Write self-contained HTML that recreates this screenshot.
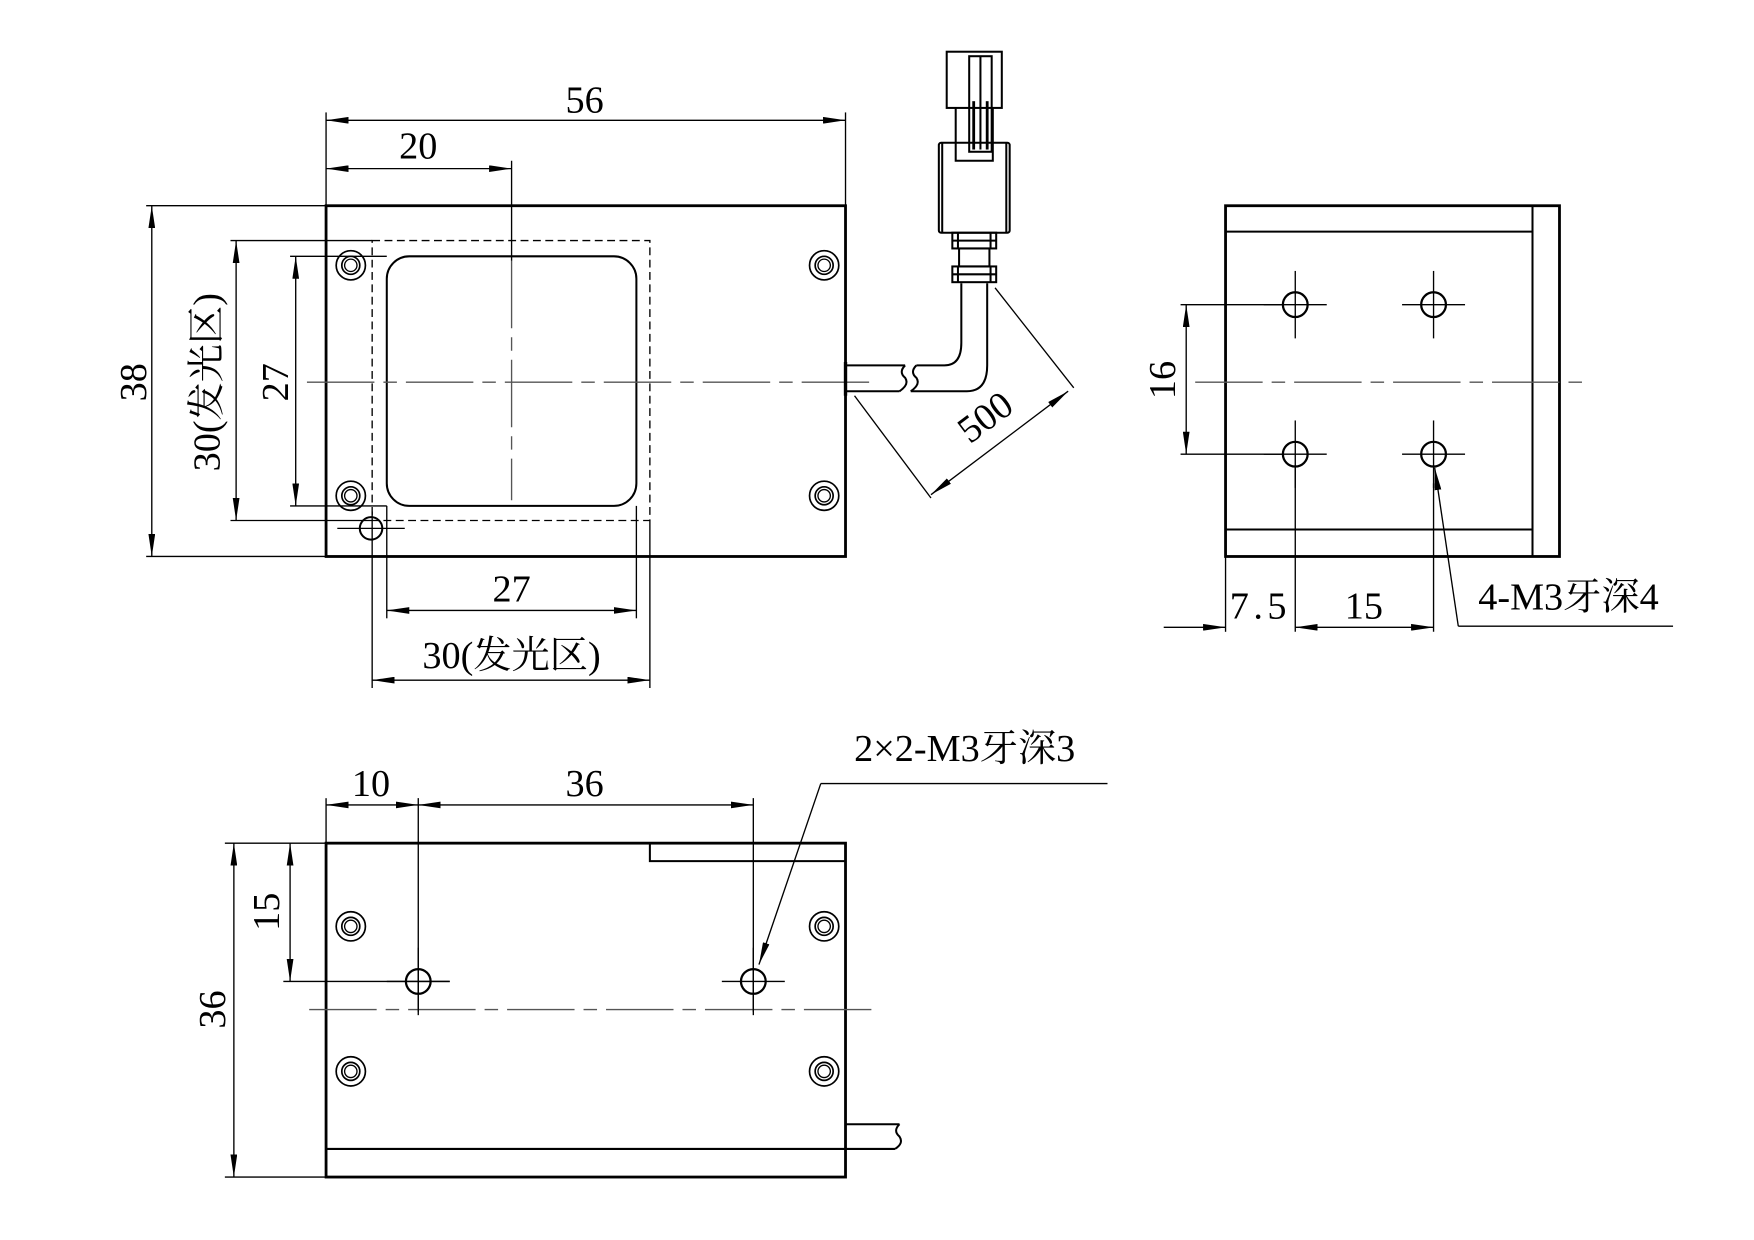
<!DOCTYPE html>
<html><head><meta charset="utf-8"><style>html,body{margin:0;padding:0;background:#fff}svg{display:block}
text{font-family:"Liberation Serif","Noto Serif CJK SC",serif;font-size:34px;fill:#000}</style></head><body>
<svg width="1754" height="1240" viewBox="0 0 1560 1103" preserveAspectRatio="none" xmlns="http://www.w3.org/2000/svg">
<defs>
<marker id="a" viewBox="0 0 20 6" refX="20" refY="3" markerWidth="20" markerHeight="6" markerUnits="userSpaceOnUse" orient="auto-start-reverse"><path d="M0,0L20,3L0,6z" fill="#000"/></marker>
<g id="mh"><circle r="13" fill="none" stroke="#000" stroke-width="1.5"/><circle r="8" fill="none" stroke="#000" stroke-width="1.5"/><circle r="5.5" fill="none" stroke="#000" stroke-width="1.2"/></g>
<g id="th"><circle r="11" fill="none" stroke="#000" stroke-width="2"/><line x1="-28" y1="0" x2="28" y2="0"/><line x1="0" y1="-30" x2="0" y2="30"/></g>
</defs>
<g stroke="#000" stroke-width="1.2" fill="none">
<!-- FRONT VIEW -->
<rect x="290" y="183" width="462" height="312" stroke-width="2.5"/>
<rect x="331" y="214" width="247" height="249" stroke-dasharray="7,4"/>
<rect x="344" y="228" width="222" height="222" rx="20" stroke-width="1.8"/>
<use href="#mh" x="312" y="236"/><use href="#mh" x="312" y="441"/><use href="#mh" x="733" y="236"/><use href="#mh" x="733" y="441"/>
<circle cx="330" cy="470" r="10" stroke-width="1.8"/>
<line x1="300" y1="470" x2="360" y2="470"/>
<line x1="273" y1="340" x2="775" y2="340" stroke="#555" stroke-dasharray="60,8,12,8"/>
<line x1="455" y1="232" x2="455" y2="445" stroke="#555" stroke-dasharray="60,8,12,8"/>
<!-- 56 / 20 -->
<line x1="290" y1="100" x2="290" y2="183"/><line x1="752" y1="100" x2="752" y2="183"/>
<line x1="290" y1="107" x2="752" y2="107" marker-start="url(#a)" marker-end="url(#a)"/>
<line x1="455" y1="143" x2="455" y2="232"/>
<line x1="290" y1="150" x2="455" y2="150" marker-start="url(#a)" marker-end="url(#a)"/>
<!-- 38 -->
<line x1="130" y1="183" x2="290" y2="183"/><line x1="130" y1="495" x2="290" y2="495"/>
<line x1="135" y1="183" x2="135" y2="495" marker-start="url(#a)" marker-end="url(#a)"/>
<!-- 30 vertical -->
<line x1="205" y1="214" x2="331" y2="214"/><line x1="205" y1="463" x2="331" y2="463"/>
<line x1="210" y1="214" x2="210" y2="463" marker-start="url(#a)" marker-end="url(#a)"/>
<!-- 27 vertical -->
<line x1="258" y1="228" x2="344" y2="228"/><line x1="258" y1="450" x2="344" y2="450"/>
<line x1="263" y1="228" x2="263" y2="450" marker-start="url(#a)" marker-end="url(#a)"/>
<!-- 27 horizontal -->
<line x1="344" y1="450" x2="344" y2="550"/><line x1="566" y1="450" x2="566" y2="550"/>
<line x1="344" y1="543" x2="566" y2="543" marker-start="url(#a)" marker-end="url(#a)"/>
<!-- 30 horizontal -->
<line x1="331" y1="455" x2="331" y2="612"/><line x1="578" y1="463" x2="578" y2="612"/>
<line x1="331" y1="605" x2="578" y2="605" marker-start="url(#a)" marker-end="url(#a)"/>
<!-- cable -->
<g stroke-width="1.8">
<line x1="752" y1="325" x2="805" y2="325"/><line x1="752" y1="348" x2="800" y2="348"/>
<line x1="752" y1="322" x2="752" y2="352" stroke-width="3"/>
<path d="M805,325 q-6,6 0,11 q4,6 -5,12"/>
<path d="M815,325 q-6,6 0,11 q4,6 -5,12"/>
<path d="M815,325 L840,325 Q855,325 855,305 L855,252"/>
<path d="M810,348 L860,348 Q878,348 878,325 L878,252"/>
<rect x="847" y="207" width="39" height="14"/><rect x="847" y="237" width="39" height="14"/>
<rect x="853" y="221" width="27" height="16"/>
<line x1="852" y1="207" x2="852" y2="221"/><line x1="881" y1="207" x2="881" y2="221"/>
<line x1="852" y1="237" x2="852" y2="251"/><line x1="881" y1="237" x2="881" y2="251"/>
<line x1="847" y1="214" x2="886" y2="214"/><line x1="847" y1="244" x2="886" y2="244"/>
<rect x="835" y="127" width="63" height="80" rx="2"/>
<line x1="838" y1="127" x2="838" y2="207"/><line x1="895" y1="127" x2="895" y2="207"/>
<path d="M850,127 L850,96 M883,127 L883,96"/>
<path d="M850,127 L850,143 L883,143 L883,127"/>
<rect x="842" y="46" width="49" height="50"/>
<rect x="862" y="50" width="20" height="85"/>
<line x1="866" y1="90" x2="866" y2="133" stroke-width="2.5"/><line x1="878" y1="90" x2="878" y2="133" stroke-width="2.5"/>
<line x1="872" y1="50" x2="872" y2="133"/>
</g>
<!-- 500 -->
<line x1="885" y1="256" x2="955" y2="345"/>
<line x1="760" y1="352" x2="828" y2="443"/>
<line x1="828" y1="440" x2="950" y2="348" marker-start="url(#a)" marker-end="url(#a)"/>

<!-- SIDE VIEW -->
<rect x="1090" y="183" width="297" height="312" stroke-width="2.5"/>
<line x1="1090" y1="206" x2="1363" y2="206" stroke-width="1.8"/>
<line x1="1090" y1="471" x2="1363" y2="471" stroke-width="1.8"/>
<line x1="1363" y1="183" x2="1363" y2="495" stroke-width="1.8"/>
<line x1="1063" y1="340" x2="1408" y2="340" stroke="#555" stroke-dasharray="60,8,12,8"/>
<use href="#th" x="1152" y="271"/><use href="#th" x="1275" y="271"/><use href="#th" x="1152" y="404"/><use href="#th" x="1275" y="404"/>
<line x1="1050" y1="271" x2="1140" y2="271"/><line x1="1050" y1="404" x2="1140" y2="404"/>
<line x1="1055" y1="271" x2="1055" y2="404" marker-start="url(#a)" marker-end="url(#a)"/>
<line x1="1090" y1="495" x2="1090" y2="562"/><line x1="1152" y1="415" x2="1152" y2="562"/><line x1="1275" y1="430" x2="1275" y2="562"/>
<line x1="1035" y1="558" x2="1090" y2="558" marker-end="url(#a)"/>
<line x1="1152" y1="558" x2="1275" y2="558" marker-start="url(#a)" marker-end="url(#a)"/>
<line x1="1297" y1="557" x2="1276" y2="416" marker-end="url(#a)"/>
<line x1="1297" y1="557" x2="1488" y2="557"/>

<!-- BOTTOM VIEW -->
<rect x="290" y="750" width="462" height="297" stroke-width="2.5"/>
<path d="M578,750 L578,766 L752,766" stroke-width="1.8"/>
<line x1="290" y1="1022" x2="752" y2="1022" stroke-width="1.8"/>
<use href="#mh" x="312" y="824"/><use href="#mh" x="733" y="824"/><use href="#mh" x="312" y="953"/><use href="#mh" x="733" y="953"/>
<use href="#th" x="372" y="873"/><use href="#th" x="670" y="873"/>
<line x1="275" y1="898" x2="775" y2="898" stroke="#555" stroke-dasharray="60,8,12,8"/>
<line x1="290" y1="710" x2="290" y2="750"/><line x1="372" y1="710" x2="372" y2="900"/><line x1="670" y1="710" x2="670" y2="900"/>
<line x1="290" y1="716" x2="372" y2="716" marker-start="url(#a)" marker-end="url(#a)"/>
<line x1="372" y1="716" x2="670" y2="716" marker-start="url(#a)" marker-end="url(#a)"/>
<line x1="200" y1="750" x2="290" y2="750"/><line x1="200" y1="1047" x2="290" y2="1047"/>
<line x1="208" y1="750" x2="208" y2="1047" marker-start="url(#a)" marker-end="url(#a)"/>
<line x1="252" y1="873" x2="400" y2="873"/>
<line x1="258" y1="750" x2="258" y2="873" marker-start="url(#a)" marker-end="url(#a)"/>
<line x1="730" y1="697" x2="675" y2="858" marker-end="url(#a)"/>
<line x1="730" y1="697" x2="985" y2="697"/>
<g stroke-width="1.8">
<line x1="752" y1="1000" x2="800" y2="1000"/><line x1="752" y1="1022" x2="796" y2="1022"/>
<path d="M800,1000 q-6,6 0,11 q4,6 -4,11"/>
</g>
</g>
<g text-anchor="middle">
<text x="520" y="100">56</text>
<text x="372" y="141">20</text>
<text transform="translate(130,340) rotate(-90)">38</text>
<text transform="translate(195,340) rotate(-90)">30(发光区)</text>
<text transform="translate(256,340) rotate(-90)">27</text>
<text x="455" y="535">27</text>
<text x="455" y="594">30(发光区)</text>
<text transform="translate(883,380) rotate(-37)">500</text>
<text transform="translate(1045,338) rotate(-90)">16</text>
<text x="1121" y="550" letter-spacing="4">7.5</text>
<text x="1213" y="550">15</text>
<text x="1395" y="542">4-M3牙深4</text>
<text x="330" y="708">10</text>
<text x="520" y="708">36</text>
<text transform="translate(200,898) rotate(-90)">36</text>
<text transform="translate(248,811) rotate(-90)">15</text>
<text x="858" y="677">2×2-M3牙深3</text>
</g>
</svg>
</body></html>
